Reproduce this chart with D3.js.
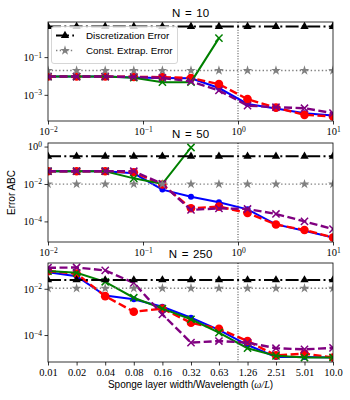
<!DOCTYPE html>
<html lang="en">
<head>
<meta charset="utf-8">
<title>Error ABC vs sponge layer width</title>
<script src="https://cdn.jsdelivr.net/npm/d3@7"></script>
<style>
  body { margin: 0; background: #fff; }
  svg { display: block; }
  .sans { font-family: "Liberation Sans", Arial, sans-serif; }
  .tick text { font-family: "Liberation Serif", "DejaVu Serif", serif; font-size: 10.5px; fill: #000; }
</style>
</head>
<body>
<script>

// sponge layer widths (omega / L) and their tick labels
var widths = [0.01, 0.02, 0.04, 0.08, 0.16, 0.32, 0.63, 1.26, 2.51, 5.01, 10.0];
var widthLabels = ["0.01", "0.02", "0.04", "0.08", "0.16", "0.32", "0.63", "1.26", "2.51", "5.01", "10.0"];
var logTicksX = [0.01, 0.1, 1, 10];

var panelTitles = ["N = 10", "N = 50", "N = 250"];

// reference errors, one per panel
var discErr = [4.2, 0.30, 0.024];
var constErr = [0.0195, 0.0098, 0.0105];

// ABC errors, one row per panel (null = not plotted)
var blueErr = [
  [9.3e-3, 9.3e-3, 9.3e-3, 8.3e-3, 7.9e-3, 7.6e-3, 2.3e-3, 3.3e-4, 1.9e-4, 1.07e-4, 7.9e-5],
  [4.8e-2, 4.8e-2, 4.8e-2, 3.7e-2, 5.0e-3, 2.1e-3, 1.05e-3, 4.4e-4, 6.9e-5, 3.2e-5, 1.38e-5],
  [5.2e-2, 3.5e-2, 5.1e-3, 3.5e-3, 1.66e-3, 5.6e-4, 1.66e-4, 3.7e-5, 1.12e-5, 1.12e-5, 1.07e-5]
];
var redErr = [
  [9.3e-3, 9.3e-3, 9.3e-3, 9.0e-3, 8.7e-3, 7.8e-3, 3.7e-3, 5.9e-4, 2.1e-4, 8.7e-5, 7.1e-5],
  [4.8e-2, 4.8e-2, 4.8e-2, 4.2e-2, 9.3e-3, 5.0e-4, 6.2e-4, 2.8e-4, 6.8e-5, 3.5e-5, 1.38e-5],
  [5.8e-2, 4.5e-2, 4.8e-3, 1.02e-3, 1.38e-3, 3.4e-4, 1.86e-4, 5.5e-5, 1.32e-5, 1.58e-5, 1.07e-5]
];
var greenErr = [
  [9.3e-3, 9.3e-3, 9.3e-3, 8.1e-3, 4.7e-3, 4.7e-3, 1.02, null, null, null, null],
  [4.8e-2, 4.8e-2, 4.8e-2, 2.0e-2, 1.0e-2, 0.89, null, null, null, null, null],
  [5.8e-2, 4.9e-2, 2.0e-2, 4.1e-3, 1.38e-3, 4.8e-4, 1.26e-4, 2.7e-5, 1.26e-5, 1.07e-5, 1.07e-5]
];
var purpleErr = [
  [9.3e-3, 9.3e-3, 9.3e-3, 8.9e-3, 7.9e-3, 5.1e-3, 1.7e-3, 2.7e-4, 2.2e-4, 1.95e-4, 1.07e-4],
  [4.8e-2, 4.8e-2, 4.8e-2, 4.8e-2, 1.0e-2, 4.1e-4, 5.0e-4, 4.6e-4, 2.5e-4, 1.0e-4, 3.9e-5],
  [8.1e-2, 8.3e-2, 6.2e-2, 1.8e-2, 7.8e-4, 4.7e-5, 5.5e-5, 4.7e-5, 2.7e-5, 2.4e-5, 2.8e-5]
];

var yTickVals = [[1e-3, 1e-1], [1e-4, 1e-2, 1e0], [1e-4, 1e-2]];

//Width and height
var w = 350;
var h = 400;
var left = 48, right = 333;
var panelTop = [22, 143, 263];
var panelH = 99;

var svg = d3.select("body").append("svg")
  .attr("width", w)
  .attr("height", h);

var xScale = d3.scaleLog().domain([0.01, 10]).range([left, right]);

// tick label like 10^-2, drawn with tspans
function powLabel(sel) {
  sel.each(function(d) {
    var t = d3.select(this).text("");
    var e = Math.round(Math.log10(d));
    t.append("tspan").text("10");
    t.append("tspan").attr("dy", "-0.45em").attr("font-size", "7.5px")
      .text(e < 0 ? "\u2212" + (-e) : e);
  });
}

var series = [
  { data: blueErr, color: "blue", width: 2, dash: null, marker: "circle", r: 3 },
  { data: redErr, color: "red", width: 2.4, dash: "8,3.5", marker: "circle", r: 4.3 },
  { data: greenErr, color: "green", width: 2, dash: null, marker: "x", r: 3.6 },
  { data: purpleErr, color: "purple", width: 2.4, dash: "8,3.5", marker: "x", r: 3.6 }
];

panelTitles.forEach(function(title, p) {
  var top = panelTop[p];
  var bottom = top + panelH;

  // y limits from the data with 5% padding in log space
  var all = [discErr[p], constErr[p]];
  series.forEach(function(s) {
    s.data[p].forEach(function(v) { if (v != null) all.push(v); });
  });
  var lo = Math.log10(d3.min(all)), hi = Math.log10(d3.max(all));
  var pad = (hi - lo) * 0.05;
  var yScale = d3.scaleLog()
    .domain([Math.pow(10, lo - pad), Math.pow(10, hi + pad)])
    .range([bottom, top]);

  var g = svg.append("g");
  var clipId = "clip" + p;
  g.append("clipPath").attr("id", clipId)
    .append("rect").attr("x", left).attr("y", top)
    .attr("width", right - left).attr("height", panelH);

  var plot = g.append("g").attr("clip-path", "url(#" + clipId + ")");

  // vertical guide at omega/L = 1
  plot.append("line")
    .attr("x1", xScale(1)).attr("x2", xScale(1))
    .attr("y1", top).attr("y2", bottom)
    .attr("stroke", "#000").attr("stroke-width", 0.8)
    .attr("stroke-dasharray", "1,1.6");

  var line = d3.line()
    .defined(function(d) { return d != null; })
    .x(function(d, i) { return xScale(widths[i]); })
    .y(function(d) { return yScale(d); });

  series.forEach(function(s) {
    var vals = s.data[p];
    plot.append("path")
      .attr("d", line(vals))
      .attr("fill", "none")
      .attr("stroke", s.color)
      .attr("stroke-width", s.width)
      .attr("stroke-dasharray", s.dash);

    var pts = vals.map(function(v, i) { return { x: widths[i], y: v }; })
      .filter(function(d) { return d.y != null; });

    if (s.marker === "circle") {
      plot.selectAll(null).data(pts).enter().append("circle")
        .attr("cx", function(d) { return xScale(d.x); })
        .attr("cy", function(d) { return yScale(d.y); })
        .attr("r", s.r)
        .attr("fill", s.color);
    } else {
      plot.selectAll(null).data(pts).enter().append("path")
        .attr("d", function(d) {
          var cx = xScale(d.x), cy = yScale(d.y), r = s.r;
          return "M" + (cx - r) + "," + (cy - r) + "L" + (cx + r) + "," + (cy + r) +
                 "M" + (cx - r) + "," + (cy + r) + "L" + (cx + r) + "," + (cy - r);
        })
        .attr("stroke", s.color)
        .attr("stroke-width", 1.5)
        .attr("fill", "none");
    }
  });

  // constant reference errors
  var flat = [
    { v: discErr[p], color: "#000", dash: "13,3.3,2,3.3", width: 2, sym: d3.symbolTriangle, size: 30 },
    { v: constErr[p], color: "#808080", dash: "1.4,2.3", width: 1.4, sym: d3.symbolStar, size: 30 }
  ];
  flat.forEach(function(f) {
    var vals = widths.map(function() { return f.v; });
    plot.append("path")
      .attr("d", line(vals))
      .attr("fill", "none")
      .attr("stroke", f.color)
      .attr("stroke-width", f.width)
      .attr("stroke-dasharray", f.dash);
    plot.selectAll(null).data(widths).enter().append("path")
      .attr("d", d3.symbol().type(f.sym).size(f.size))
      .attr("transform", function(d) {
        return "translate(" + xScale(d) + "," + yScale(f.v) + ")";
      })
      .attr("fill", f.color);
  });

  //Create Y axis
  var yAxis = d3.axisLeft(yScale).tickValues(yTickVals[p]).tickSize(3.5).tickPadding(2.5);
  var ya = g.append("g").attr("transform", "translate(" + left + ",0)").call(yAxis);
  ya.select(".domain").remove();
  ya.selectAll(".tick line").attr("stroke-width", 0.8);
  ya.selectAll(".tick text").call(powLabel);

  //Create X axis
  var xAxis = d3.axisBottom(xScale).tickSize(3.5).tickPadding(3);
  if (p < 2) {
    xAxis.tickValues(logTicksX);
  } else {
    xAxis.tickValues(widths).tickFormat(function(d, i) { return widthLabels[i]; });
  }
  var xa = g.append("g").attr("transform", "translate(0," + bottom + ")").call(xAxis);
  xa.select(".domain").remove();
  xa.selectAll(".tick line").attr("stroke-width", 0.8);
  if (p < 2) xa.selectAll(".tick text").call(powLabel);

  // frame
  g.append("rect")
    .attr("x", left).attr("y", top)
    .attr("width", right - left).attr("height", panelH)
    .attr("fill", "none").attr("stroke", "#000").attr("stroke-width", 0.8);

  // title
  g.append("text")
    .attr("class", "sans")
    .attr("x", (left + right) / 2).attr("y", top - 5.5)
    .attr("text-anchor", "middle")
    .attr("font-size", "11.5px")
    .attr("word-spacing", "1.5px")
    .text(title);

  // legend in the first panel
  if (p === 0) {
    var lg = g.append("g");
    lg.append("rect")
      .attr("x", 51.5).attr("y", 26.5).attr("width", 126).attr("height", 37)
      .attr("rx", 2.5)
      .attr("fill", "#fff").attr("fill-opacity", 0.8)
      .attr("stroke", "#ccc").attr("stroke-width", 0.8);
    var labels = ["Discretization Error", "Const. Extrap. Error"];
    flat.forEach(function(f, i) {
      var ly = 35.5 + i * 15;
      lg.append("line")
        .attr("x1", 56).attr("x2", 74).attr("y1", ly).attr("y2", ly)
        .attr("stroke", f.color).attr("stroke-width", f.width)
        .attr("stroke-dasharray", f.dash);
      lg.append("path")
        .attr("d", d3.symbol().type(f.sym).size(f.size))
        .attr("transform", "translate(65," + ly + ")")
        .attr("fill", f.color);
      lg.append("text")
        .attr("class", "sans")
        .attr("x", 86).attr("y", ly + 3.5)
        .attr("font-size", "9.8px")
        .text(labels[i]);
    });
  }
});

// axis labels
svg.append("text")
  .attr("class", "sans")
  .attr("transform", "translate(15," + (panelTop[1] + panelH / 2) + ") rotate(-90)")
  .attr("text-anchor", "middle")
  .attr("font-size", "10px")
  .text("Error ABC");

var xl = svg.append("text")
  .attr("class", "sans")
  .attr("x", (left + right) / 2).attr("y", 388)
  .attr("text-anchor", "middle")
  .attr("font-size", "10px");
xl.append("tspan").text("Sponge layer width/Wavelength (");
xl.append("tspan").attr("font-family", "Liberation Serif, serif").attr("font-style", "italic").text("\u03C9/L");
xl.append("tspan").text(")");

</script>
</body>
</html>
